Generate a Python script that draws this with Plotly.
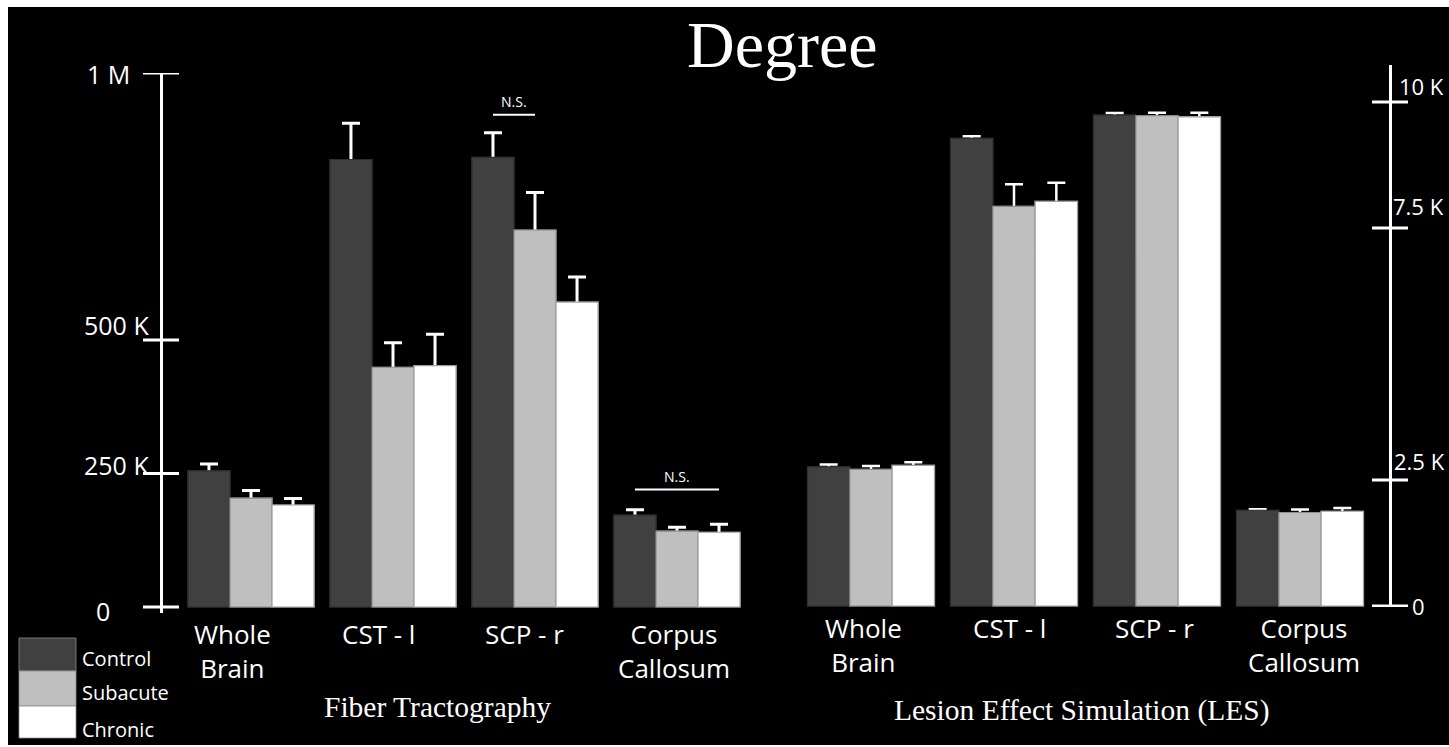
import plotly.graph_objects as go

# ---------------- data ----------------
categories = ["Whole Brain", "CST - l", "SCP - r", "Corpus Callosum"]
category_labels = ["Whole<br>Brain", "CST - l", "SCP - r", "Corpus<br>Callosum"]
series_names = ["Control", "Subacute", "Chronic"]

# Fiber Tractography (left axis)
ft_control = [255000, 838000, 842000, 172000]
ft_control_err = [13000, 68000, 46000, 10000]
ft_subacute = [204000, 449000, 706000, 142000]
ft_subacute_err = [14000, 46000, 70000, 7500]
ft_chronic = [191000, 452000, 571000, 140000]
ft_chronic_err = [12000, 59000, 47000, 15000]

# Lesion Effect Simulation (right axis)
les_control = [2760, 9280, 9740, 1900]
les_control_err = [50, 40, 40, 20]
les_subacute = [2710, 7930, 9730, 1855]
les_subacute_err = [70, 440, 55, 60]
les_chronic = [2790, 8030, 9705, 1880]
les_chronic_err = [60, 370, 80, 65]

left_tick_vals = [0, 250000, 500000, 1000000]
left_tick_text = ["0", "250 K", "500 K", "1 M"]
right_tick_vals = [0, 2500, 7500, 10000]
right_tick_text = ["0", "2.5 K", "7.5 K", "10 K"]

# non-significant comparisons: (panel, category, series a, series b, bracket level)
ns_marks = [("left", "SCP - r", "Control", "Subacute", 922000),
            ("left", "Corpus Callosum", "Control", "Chronic", 220000)]

# ---------------- style / layout ----------------
W, H = 1449, 747
def px(x):
    return x / W
def py(y):
    return 1 - y / H

FONT = "Open Sans"
SERIF = "Liberation Serif"
fills = {"Control": "#404040", "Subacute": "#bfbfbf", "Chronic": "#ffffff"}
edges = {"Control": "#2e2e2e", "Subacute": "#8c8c8c", "Chronic": "#a0a0a0"}
BW = 0.296
offsets = {"Control": -1.5 * BW, "Subacute": -0.5 * BW, "Chronic": 0.5 * BW}

panels = {
    "left": dict(xa="x", ya="y",
                 vals={"Control": (ft_control, ft_control_err),
                       "Subacute": (ft_subacute, ft_subacute_err),
                       "Chronic": (ft_chronic, ft_chronic_err)},
                 err_th=3),
    "right": dict(xa="x2", ya="y2",
                  vals={"Control": (les_control, les_control_err),
                        "Subacute": (les_subacute, les_subacute_err),
                        "Chronic": (les_chronic, les_chronic_err)},
                  err_th=2.5),
}

xpos = list(range(len(categories)))
fig = go.Figure()

# bars with error bars, then identical cover bars hiding the lower half of each error bar
for pname, p in panels.items():
    for s in series_names:
        v, e = p["vals"][s]
        fig.add_trace(go.Bar(
            x=xpos, y=v, width=BW, offset=offsets[s], name=s,
            xaxis=p["xa"], yaxis=p["ya"], showlegend=False,
            marker=dict(color=fills[s], line=dict(color=edges[s], width=1.2)),
            error_y=dict(type="data", array=e, arrayminus=e, symmetric=False,
                         color="white", thickness=p["err_th"], width=9),
            hoverinfo="skip"))
    for s in series_names:
        v, e = p["vals"][s]
        fig.add_trace(go.Bar(
            x=xpos, y=v, width=BW, offset=offsets[s], name=s,
            xaxis=p["xa"], yaxis=p["ya"], showlegend=False,
            marker=dict(color=fills[s], line=dict(color=edges[s], width=1.2)),
            hoverinfo="skip"))

shapes = []
annotations = []

# black backdrop
shapes.append(dict(type="rect", xref="paper", yref="paper", x0=px(8), x1=1.02,
                   y0=py(745), y1=py(7), fillcolor="black", line=dict(width=0),
                   layer="below"))

# crossing tick marks
for v in left_tick_vals:
    shapes.append(dict(type="line", xref="paper", yref="y", x0=px(143), x1=px(179),
                       y0=v, y1=v, line=dict(color="white", width=3)))
for v in right_tick_vals:
    shapes.append(dict(type="line", xref="paper", yref="y2", x0=px(1372), x1=px(1408),
                       y0=v, y1=v, line=dict(color="white", width=3)))

# tick labels
left_shift = [-3.5, 9, 15, -1]
left_right_edge = [112, 151, 151, 132]
for v, t, ys, xr in zip(left_tick_vals, left_tick_text, left_shift, left_right_edge):
    annotations.append(dict(text=t, xref="paper", yref="y", x=px(xr), y=v,
                            xanchor="right", yanchor="middle", yshift=ys,
                            showarrow=False, font=dict(family=FONT, size=25, color="white")))
right_shift = [0, 19, 22, 16]
right_left_edge = [1410, 1392, 1391, 1397]
for v, t, ys, xl in zip(right_tick_vals, right_tick_text, right_shift, right_left_edge):
    annotations.append(dict(text=t, xref="paper", yref="y2", x=px(xl), y=v,
                            xanchor="left", yanchor="middle", yshift=ys,
                            showarrow=False, font=dict(family=FONT, size=22, color="white")))

# category labels
for pname, shifts, ytop in (("left", [-19, -15, -11, -3], 614),
                            ("right", [-8, -5, -3, 4], 608)):
    p = panels[pname]
    for i, (lab, xs) in enumerate(zip(category_labels, shifts)):
        annotations.append(dict(text=lab, xref=p["xa"], yref="paper", x=xpos[i], y=py(ytop),
                                xanchor="center", yanchor="top", xshift=xs,
                                showarrow=False, align="center",
                                font=dict(family=FONT, size=26, color="white")))

# N.S. brackets
for pname, cat, a, b, lvl in ns_marks:
    p = panels[pname]
    i = categories.index(cat)
    xa_ = xpos[i] + offsets[a] + BW / 2
    xb_ = xpos[i] + offsets[b] + BW / 2
    shapes.append(dict(type="line", xref=p["xa"], yref=p["ya"], x0=xa_, x1=xb_,
                       y0=lvl, y1=lvl, line=dict(color="white", width=2)))
    annotations.append(dict(text="N.S.", xref=p["xa"], yref=p["ya"], x=(xa_ + xb_) / 2,
                            y=lvl, xanchor="center", yanchor="bottom", yshift=2,
                            showarrow=False, font=dict(family=FONT, size=14, color="white")))

# legend
box_edges = [638, 671, 706, 738]
text_centers = [658.2, 692.2, 729.2]
for k, s in enumerate(series_names):
    shapes.append(dict(type="rect", xref="paper", yref="paper", x0=px(19), x1=px(76),
                       y0=py(box_edges[k + 1]), y1=py(box_edges[k]),
                       fillcolor=fills[s], line=dict(color="#8c8c8c", width=0.8)))
    annotations.append(dict(text=s, xref="paper", yref="paper", x=px(80), y=py(text_centers[k]),
                            xanchor="left", yanchor="middle", showarrow=False,
                            font=dict(family=FONT, size=20, color="white")))

# titles
annotations.append(dict(text="Degree", xref="paper", yref="paper", x=px(782), y=py(44.7),
                        xanchor="center", yanchor="middle", showarrow=False,
                        font=dict(family=SERIF, size=66, color="white")))
annotations.append(dict(text="Fiber Tractography", xref="paper", yref="paper", x=px(437.5),
                        y=py(707), xanchor="center", yanchor="middle", showarrow=False,
                        font=dict(family=SERIF, size=29.5, color="white")))
annotations.append(dict(text="Lesion Effect Simulation (LES)", xref="paper", yref="paper",
                        x=px(1082), y=py(710.7), xanchor="center", yanchor="middle",
                        showarrow=False, font=dict(family=SERIF, size=29.5, color="white")))

hidden_x = dict(showgrid=False, zeroline=False, showline=False, showticklabels=False,
                ticks="", fixedrange=True)
fig.update_layout(
    width=W, height=H, autosize=False,
    margin=dict(l=0, r=0, t=0, b=0, pad=0),
    paper_bgcolor="white", plot_bgcolor="rgba(0,0,0,0)",
    barmode="overlay", showlegend=False,
    xaxis=dict(domain=[px(162.5), px(760)],
               range=[-(251 - 162.5) / 142, 3 + (760 - 677) / 142], **hidden_x),
    xaxis2=dict(domain=[px(780), px(1388.5)],
                range=[-(871 - 780) / 143, 3 + (1388.5 - 1300) / 143], **hidden_x),
    yaxis=dict(anchor="x", side="left", domain=[py(613), py(73)],
               range=[-(613 - 607) / 0.534 * 1000, 1000000],
               showgrid=False, zeroline=False, showticklabels=False, ticks="",
               showline=True, linecolor="white", linewidth=3),
    yaxis2=dict(anchor="x2", side="right", domain=[py(607), py(65)],
                range=[-(607 - 606) / 0.0504, (606 - 65) / 0.0504],
                showgrid=False, zeroline=False, showticklabels=False, ticks="",
                showline=True, linecolor="white", linewidth=3),
    shapes=shapes, annotations=annotations,
)

fig.write_html("out.html")
